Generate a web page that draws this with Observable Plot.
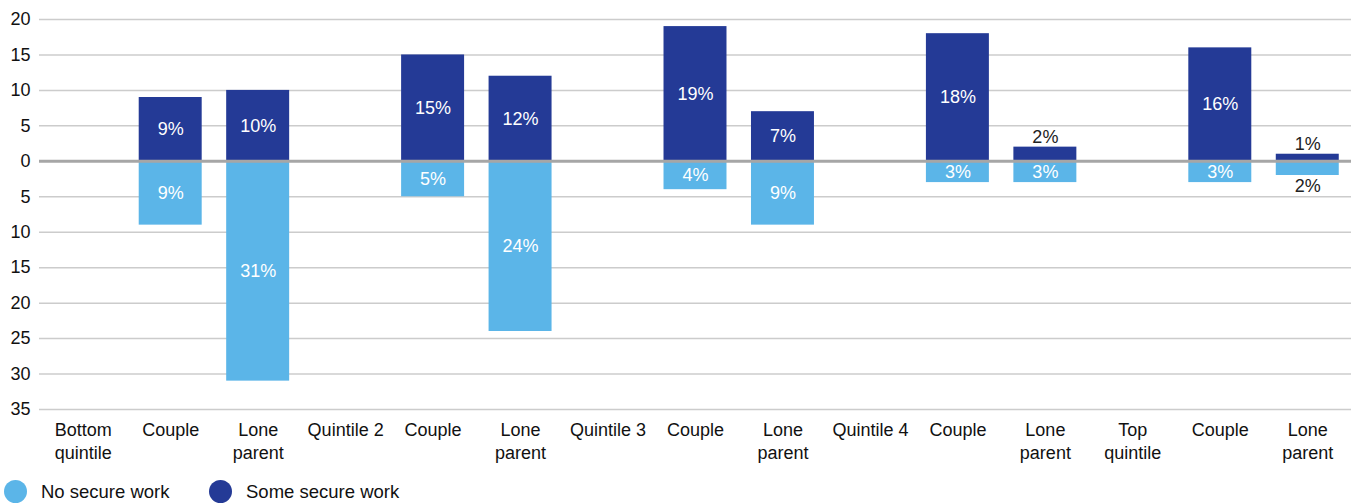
<!DOCTYPE html>
<html>
<head>
<meta charset="utf-8">
<script src="https://cdn.jsdelivr.net/npm/d3@7"></script>
<script src="https://cdn.jsdelivr.net/npm/@observablehq/plot@0.6"></script>
<style>
  html, body { margin: 0; padding: 0; background: #fff; }
  body { width: 1351px; height: 503px; overflow: hidden; font-family: "Liberation Sans", Arial, sans-serif; }
  .legend { position: relative; height: 33px; font-size: 18.5px; color: #111; }
  .legend .item { position: absolute; top: 10px; display: flex; align-items: center; }
  .legend .dot { width: 23px; height: 23px; border-radius: 50%; margin-right: 14px; }
</style>
</head>
<body>
<div id="chart"></div>
<div class="legend">
  <div class="item" style="left:4px"><span class="dot" style="background:#5bb5e8"></span>No secure work</div>
  <div class="item" style="left:209px"><span class="dot" style="background:#243a96"></span>Some secure work</div>
</div>
<script>
const categories = ["Bottom\nquintile", "Couple", "Lone\nparent", "Quintile 2", "Couple", "Lone\nparent", "Quintile 3", "Couple", "Lone\nparent", "Quintile 4", "Couple", "Lone\nparent", "Top\nquintile", "Couple", "Lone\nparent"];
const noSecureWork = [null, 9, 31, null, 5, 24, null, 4, 9, null, 3, 3, null, 3, 2];
const someSecureWork = [null, 9, 10, null, 15, 12, null, 19, 7, null, 18, 2, null, 16, 1];
const yTicks = [20, 15, 10, 5, 0, -5, -10, -15, -20, -25, -30, -35];
const seriesNames = ["No secure work", "Some secure work"];
const seriesColors = ["#5bb5e8", "#243a96"];

const keys = categories.map((c, i) => i);
const rows = [];
keys.forEach(i => {
  if (someSecureWork[i] != null) rows.push({key: i, series: seriesNames[1], value: someSecureWork[i]});
  if (noSecureWork[i] != null) rows.push({key: i, series: seriesNames[0], value: -noSecureWork[i]});
});
const inside = rows.filter(d => Math.abs(d.value) >= 3);
const outsidePos = rows.filter(d => Math.abs(d.value) < 3 && d.value > 0);
const outsideNeg = rows.filter(d => Math.abs(d.value) < 3 && d.value < 0);
const fmt = d => Math.abs(d.value) + "%";

const chart = Plot.plot({
  width: 1351,
  height: 470,
  marginLeft: 39,
  marginRight: 0,
  marginTop: 19,
  marginBottom: 61,
  style: {fontFamily: "'Liberation Sans', Arial, sans-serif", fontSize: "18px", color: "#111", background: "#fff"},
  x: {domain: keys, paddingInner: 0.28, paddingOuter: 0.14, round: false, label: null},
  y: {domain: [-35, 20], label: null},
  color: {domain: seriesNames, range: seriesColors},
  marks: [
    Plot.gridY(yTicks, {stroke: "#cccccc", strokeOpacity: 1, strokeWidth: 1.5}),
    Plot.axisY(yTicks, {tickSize: 0, tickPadding: 9, tickFormat: d => Math.abs(d), fontSize: 18, label: null}),
    Plot.axisX({tickSize: 0, tickPadding: 11, tickFormat: i => categories[i], fontSize: 18, lineHeight: 1.25, label: null}),
    Plot.barY(rows, {x: "key", y: "value", fill: "series"}),
    Plot.ruleY([0], {stroke: "#a6a6a6", strokeWidth: 3}),
    Plot.text(inside, {x: "key", y: d => d.value / 2, text: fmt, fill: "white", fontSize: 18}),
    Plot.text(outsidePos, {x: "key", y: "value", text: fmt, fill: "#222", fontSize: 18, dy: -10}),
    Plot.text(outsideNeg, {x: "key", y: "value", text: fmt, fill: "#222", fontSize: 18, dy: 11})
  ]
});
document.getElementById("chart").appendChild(chart);
</script>
</body>
</html>
